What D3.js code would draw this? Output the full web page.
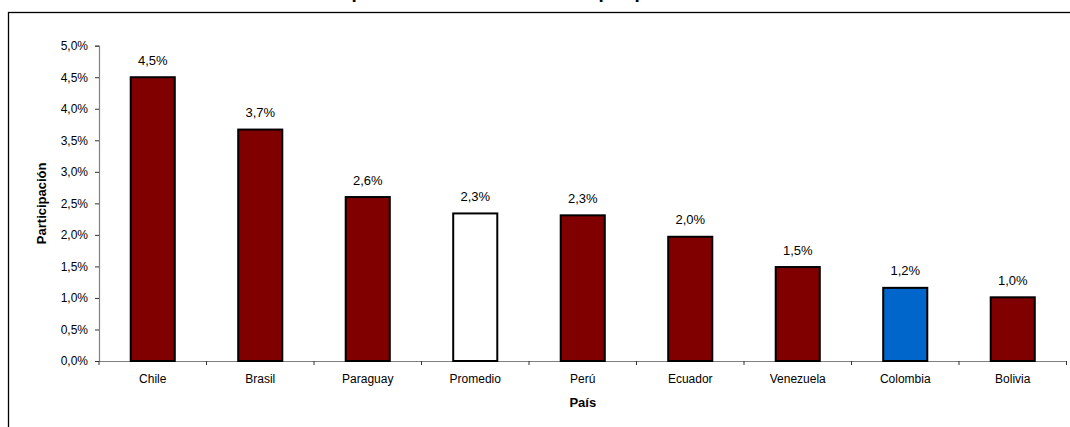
<!DOCTYPE html>
<html><head><meta charset="utf-8">
<script src="https://cdn.jsdelivr.net/npm/d3@7"></script>
<style>body{margin:0;background:#fff;overflow:hidden}svg{display:block;font-family:Arial,"Liberation Sans",sans-serif}</style>
</head><body><svg id="c" width="1070" height="427"></svg>
<script>
const categories = ["Chile","Brasil","Paraguay","Promedio","Perú","Ecuador","Venezuela","Colombia","Bolivia"];
const values = [0.0450,0.0367,0.0260,0.0234,0.0231,0.0197,0.0149,0.0116,0.0101];
const barColors = ["#800000","#800000","#800000","#ffffff","#800000","#800000","#800000","#0066cc","#800000"];
const yTicks = [0,0.005,0.01,0.015,0.02,0.025,0.03,0.035,0.04,0.045,0.05];
const title = "Participación del sector en el PIB por país";
const yTitle = "Participación";
const xTitle = "País";

const svg = d3.select("#c");
const m = {l:99, r:1066.5, t:45.7, b:361};
const fmt = v => d3.format(".1f")(v*100).replace(".", ",") + "%";

// outer frame
svg.append("rect").attr("x",8.5).attr("y",12.5).attr("width",1200).attr("height",600)
  .attr("fill","none").attr("stroke","#000").attr("stroke-width",1.3);

svg.append("text").attr("x",483).attr("y",-2).attr("text-anchor","middle")
  .attr("font-size",19).attr("font-weight","bold").text(title);

const x = d3.scaleBand().domain(categories).range([m.l,m.r]).padding(0);
const y = d3.scaleLinear().domain([0,0.05]).range([m.b,m.t]);
const bw = x.bandwidth()*0.41;

// y axis
const ya = svg.append("g").attr("transform",`translate(${m.l},0)`)
  .call(d3.axisLeft(y).tickValues(yTicks).tickSize(4).tickPadding(7).tickFormat(fmt));
ya.select(".domain").attr("stroke","#808080").attr("stroke-width",1.2);
ya.selectAll(".tick line").attr("stroke","#333");
ya.selectAll(".tick text").attr("font-size",12).attr("font-family","Arial,'Liberation Sans',sans-serif").attr("fill","#000");

// x axis
const xa = svg.append("g").attr("transform",`translate(0,${m.b})`)
  .call(d3.axisBottom(x).tickSize(0).tickPadding(13));
xa.select(".domain").attr("stroke","#808080").attr("stroke-width",1.2);
xa.selectAll(".tick text").attr("font-size",12).attr("font-family","Arial,'Liberation Sans',sans-serif").attr("fill","#000");
// boundary ticks
const bounds = categories.map(c=>x(c)).concat([m.r]);
svg.append("g").selectAll("line").data(bounds).join("line")
  .attr("x1",d=>d).attr("x2",d=>d).attr("y1",m.b).attr("y2",m.b+4)
  .attr("stroke","#333").attr("stroke-width",1);

// bars
svg.append("g").selectAll("rect").data(categories).join("rect")
  .attr("x",(c)=>x(c)+(x.bandwidth()-bw)/2)
  .attr("y",(c,i)=>y(values[i]))
  .attr("width",bw)
  .attr("height",(c,i)=>y(0)-y(values[i]))
  .attr("fill",(c,i)=>barColors[i])
  .attr("stroke","#000").attr("stroke-width",2);

// data labels
svg.append("g").selectAll("text").data(categories).join("text")
  .attr("x",c=>x(c)+x.bandwidth()/2)
  .attr("y",(c,i)=>y(values[i])-12.5)
  .attr("text-anchor","middle").attr("font-size",13).attr("fill","#000")
  .text((c,i)=>fmt(values[i]));

// axis titles
svg.append("text").attr("transform",`translate(46,${(m.t+m.b)/2}) rotate(-90)`)
  .attr("text-anchor","middle").attr("font-size",13).attr("font-weight","bold").text(yTitle);
svg.append("text").attr("x",(m.l+m.r)/2).attr("y",407)
  .attr("text-anchor","middle").attr("font-size",13).attr("font-weight","bold").text(xTitle);
</script></body></html>
